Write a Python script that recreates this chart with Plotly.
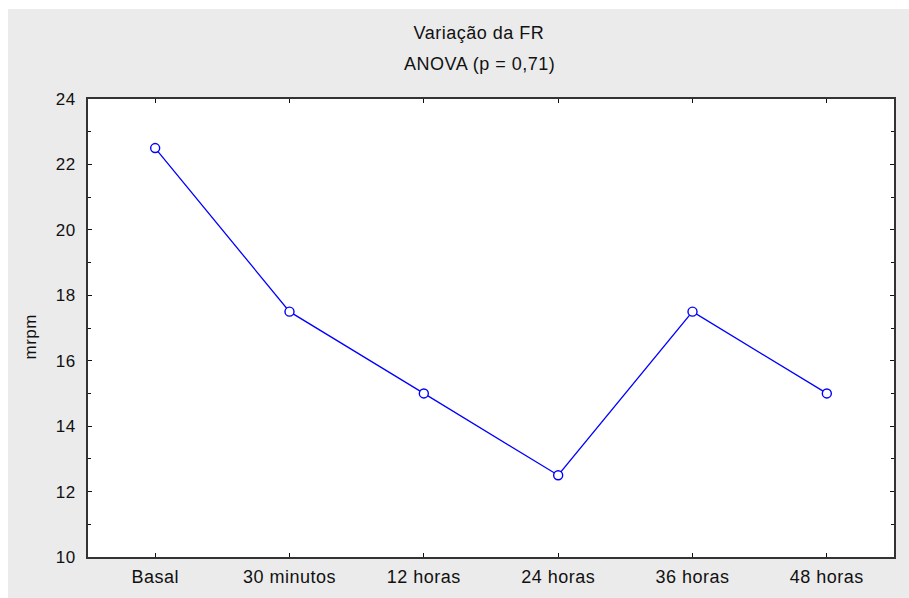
import plotly.graph_objects as go

categories = ["Basal", "30 minutos", "12 horas", "24 horas", "36 horas", "48 horas"]
values = [22.5, 17.5, 15.0, 12.5, 17.5, 15.0]
y_ticks = [10, 12, 14, 16, 18, 20, 22, 24]

W, H = 909, 598
L, R, T, B = 80, 23, 90, 50
pw, ph = W - L - R, H - T - B

def px(x):
    return (x - L) / pw

def py(y):
    return (H - B - y) / ph

FONT = "Liberation Sans, Arial, sans-serif"
fc = "#111111"

fig = go.Figure()
fig.add_trace(go.Scatter(
    x=list(range(len(categories))), y=values, mode="lines+markers",
    line=dict(color="#0000ff", width=1.3),
    marker=dict(symbol="circle", size=9, color="white",
                line=dict(color="#0000ff", width=1.4)),
    showlegend=False, cliponaxis=False,
))

axis_common = dict(showgrid=False, zeroline=False, showline=True, mirror="allticks",
                   linecolor="#333333", linewidth=2, ticks="inside", ticklen=4,
                   tickcolor="#111111", tickwidth=1.2)

fig.update_layout(
    width=W, height=H,
    margin=dict(l=L, r=R, t=T, b=B),
    paper_bgcolor="#ebebeb", plot_bgcolor="white",
    xaxis=dict(range=[-0.5, 5.5], tickmode="array",
               tickvals=list(range(len(categories))), ticktext=categories,
               ticklabelstandoff=2, tickfont=dict(family=FONT, size=18, color=fc),
               **axis_common),
    yaxis=dict(range=[10, 24], tickmode="array", tickvals=y_ticks,
               ticktext=[str(v) for v in y_ticks], ticklabelstandoff=7,
               tickfont=dict(family=FONT, size=17, color=fc),
               minor=dict(ticks="inside", dtick=1, ticklen=3, tickcolor="#111111"),
               **axis_common),
    annotations=[
        dict(text="Variação da FR", xref="paper", yref="paper", x=px(471), y=py(24),
             xanchor="center", yanchor="middle", showarrow=False,
             font=dict(family=FONT, size=18, color=fc)),
        dict(text="ANOVA (p = 0,71)", xref="paper", yref="paper", x=px(471), y=py(55),
             xanchor="center", yanchor="middle", showarrow=False,
             font=dict(family=FONT, size=18, color=fc)),
        dict(text="mrpm", xref="paper", yref="paper", x=px(21.5), y=py(328),
             xanchor="center", yanchor="middle", showarrow=False, textangle=-90,
             font=dict(family=FONT, size=17, color=fc)),
    ],
)

post = (
    "var s=document.createElement('style');"
    "s.textContent='html,body{overflow:hidden !important;}"
    " body{margin:9px 0 0 8px !important;background:#ffffff;}"
    " .plotly-graph-div{height:598px !important;width:909px !important;overflow:visible !important;}"
    " .main-svg text{letter-spacing:0.5px;}';"
    "document.head.appendChild(s);"
)

fig.write_html("out.html", post_script=post)
